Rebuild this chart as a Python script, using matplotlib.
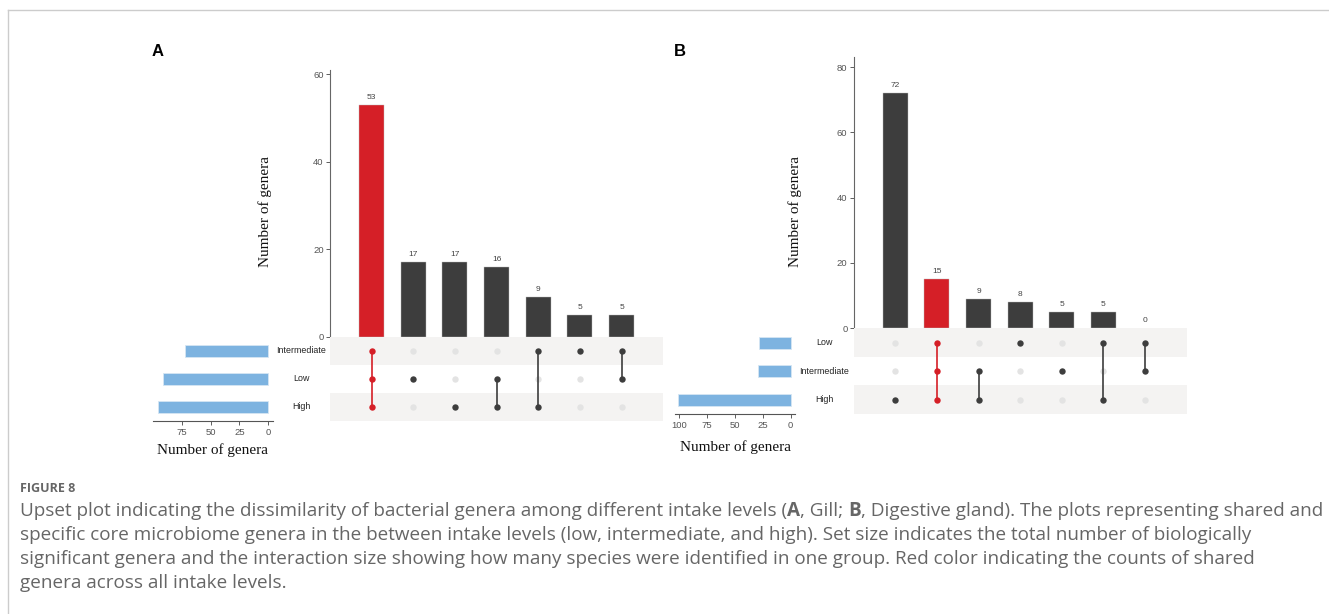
import matplotlib
matplotlib.use('Agg')
import matplotlib.pyplot as plt
import matplotlib.transforms as mtransforms
from matplotlib.lines import Line2D

W, H = 1329, 614

# panel A (gill)
sets_a = ['Intermediate', 'Low', 'High']
set_sizes_a = [72, 91, 95]
inter_a = [53, 17, 17, 16, 9, 5, 5]
members_a = [['Intermediate', 'Low', 'High'], ['Low'], ['High'], ['Low', 'High'],
             ['Intermediate', 'High'], ['Intermediate'], ['Intermediate', 'Low']]
shared_a = 0

# panel B (digestive gland)
sets_b = ['Low', 'Intermediate', 'High']
set_sizes_b = [28, 29, 101]
inter_b = [72, 15, 9, 8, 5, 5, 0]
members_b = [['High'], ['Low', 'Intermediate', 'High'], ['Intermediate', 'High'], ['Low'],
             ['Intermediate'], ['Low', 'High'], ['Low', 'Intermediate']]
shared_b = 1

DARK = '#3d3d3d'
RED = '#d51f27'
BLUE = '#7db3e0'
BAND = '#f4f3f2'
OFF = '#e3e3e3'
SANS = ['Liberation Sans', 'DejaVu Sans']
SERIF = ['Liberation Serif', 'DejaVu Serif']

fig = plt.figure(figsize=(W / 100, H / 100), dpi=100)


def px_box(x0, y0, x1, y1):
    return [x0 / W, 1 - y1 / H, (x1 - x0) / W, (y1 - y0) / H]


def upset(sets, sizes, inter, members, shared, bar_box, mat_box, set_box, ymax, yticks, sxlim, sxticks,
          label, label_xy, ylab_x, xlab_y):
    ax_bar = fig.add_axes(px_box(*bar_box))
    ax_mat = fig.add_axes(px_box(*mat_box))
    ax_set = fig.add_axes(px_box(*set_box))
    n = len(inter)
    xs = list(range(n))
    colors = [RED if i == shared else DARK for i in xs]

    # intersection sizes
    bars = ax_bar.bar(xs, inter, width=0.6, color=colors, edgecolor='#bbbbbb', linewidth=0.3)
    for b, v in zip(bars, inter):
        if v == 0:
            b.set_linewidth(0)
    for x, v in zip(xs, inter):
        ax_bar.annotate(str(v), (x, v), xytext=(0, 3), textcoords='offset points', ha='center', va='bottom',
                        fontsize=6, color='#444444', family=SANS)
    ax_bar.set_xlim(-1, n)
    ax_bar.set_ylim(0, ymax)
    ax_bar.set_yticks(yticks)
    ax_bar.set_xticks([])
    for s in ['top', 'right', 'bottom']:
        ax_bar.spines[s].set_visible(False)
    ax_bar.spines['left'].set_color('#666666')
    ax_bar.spines['left'].set_linewidth(0.8)
    ax_bar.tick_params(axis='y', length=3, width=0.6, color='#444444', labelsize=6.8, labelcolor='#555555', pad=1.5)
    for t in ax_bar.get_yticklabels():
        t.set_family(SANS)
    ax_bar.patch.set_alpha(0)

    # matrix
    rows = {s: i for i, s in enumerate(sets)}
    ax_mat.set_xlim(-1, n)
    ax_mat.set_ylim(len(sets) - 0.5, -0.5)
    for i in range(len(sets)):
        if i % 2 == 0:
            ax_mat.axhspan(i - 0.5, i + 0.5, color=BAND, lw=0, zorder=0)
    for x, mem in zip(xs, members):
        col = RED if x == shared else DARK
        on = [rows[m] for m in mem]
        off = [r for r in range(len(sets)) if r not in on]
        ax_mat.plot([x] * len(off), off, 'o', color=OFF, ms=4.6, mew=0, zorder=2)
        if len(on) > 1:
            ax_mat.plot([x, x], [min(on), max(on)], color=col, lw=1.2, zorder=3)
        ax_mat.plot([x] * len(on), on, 'o', color=col, ms=4.6, mew=0, zorder=4)
    ax_mat.axis('off')

    # set sizes
    ys = list(range(len(sets)))
    ax_set.barh(ys, sizes, height=0.42, color=BLUE, edgecolor='#d6e6f3', linewidth=0.6)
    ax_set.set_ylim(len(sets) - 0.5, -0.5)
    ax_set.set_xlim(*sxlim)
    ax_set.set_xticks(sxticks)
    ax_set.set_yticks([])
    for s in ['top', 'right', 'left']:
        ax_set.spines[s].set_visible(False)
    ax_set.spines['bottom'].set_color('#555555')
    ax_set.spines['bottom'].set_linewidth(0.8)
    ax_set.tick_params(axis='x', length=3, width=0.6, color='#444444', labelsize=6.8, labelcolor='#555555', pad=2)
    for t in ax_set.get_xticklabels():
        t.set_family(SANS)
    ax_set.patch.set_alpha(0)
    fig.text((set_box[0] + set_box[2]) / 2 / W, 1 - xlab_y / H, 'Number of genera', ha='center', va='center',
             family=SERIF, fontsize=11, color='#111111')

    # set names in the gap between set bars and matrix
    gap_x = (set_box[2] + mat_box[0]) / 2 / W
    tr = mtransforms.blended_transform_factory(fig.transFigure, ax_mat.transData)
    for s, r in rows.items():
        fig.text(gap_x, r, s, transform=tr, ha='center', va='center', fontsize=6.4, color='#222222', family=SANS)

    fig.text(ylab_x / W, 1 - 212 / H, 'Number of genera', rotation=90, ha='center', va='center',
             family=SERIF, fontsize=11, color='#111111')
    fig.text(label_xy[0] / W, 1 - label_xy[1] / H, label, ha='center', va='center', fontsize=12,
             weight='bold', family=SANS)


upset(sets_a, set_sizes_a, inter_a, members_a, shared_a,
      (330, 70, 663.3, 336.7), (330, 336.7, 663.3, 420.7), (152.7, 336.7, 272.7, 420.7),
      61, [0, 20, 40, 60], (100, -3.8), [0, 25, 50, 75], 'A', (158, 52), 265, 450)

upset(sets_b, set_sizes_b, inter_b, members_b, shared_b,
      (853.7, 57.3, 1186.7, 328.3), (853.7, 328.3, 1186.7, 414), (675, 328.3, 795, 414),
      83, [0, 20, 40, 60, 80], (103.6, -3.85), [0, 25, 50, 75, 100], 'B', (680, 52), 795, 447)

# page frame
fig.add_artist(Line2D([7.5 / W, 1], [1 - 9.5 / H, 1 - 9.5 / H], transform=fig.transFigure, color='#cccccc', lw=1))
fig.add_artist(Line2D([7.5 / W, 7.5 / W], [0, 1 - 9.5 / H], transform=fig.transFigure, color='#cccccc', lw=1))

# caption
CAP = ['Open Sans', 'DejaVu Sans']
GREY = '#666666'
fig.text(20 / W, 1 - 488 / H, 'FIGURE 8', fontsize=9, color=GREY, family=CAP, weight='bold', va='center')
caption = [
    [('Upset plot indicating the dissimilarity of bacterial genera among different intake levels (', 'normal'),
     ('A', 'bold'), (', Gill; ', 'normal'), ('B', 'bold'),
     (', Digestive gland). The plots representing shared and', 'normal')],
    [('specific core microbiome genera in the between intake levels (low, intermediate, and high). '
      'Set size indicates the total number of biologically', 'normal')],
    [('significant genera and the interaction size showing how many species were identified in one group. '
      'Red color indicating the counts of shared', 'normal')],
    [('genera across all intake levels.', 'normal')],
]
renderer = fig.canvas.get_renderer()

# fit the first caption line (with its bold runs) to the width it has in the reference
probe_x = 0
for txt, wt in caption[0]:
    p = fig.text(0, 0, txt, fontsize=12, family=CAP, weight=wt)
    probe_x += p.get_window_extent(renderer).width
    p.remove()
cap_size = 12 * (1318 - 20) / probe_x

for k, line in enumerate(caption):
    x = 20
    y = 511 + 24 * k
    for txt, wt in line:
        t = fig.text(x / W, 1 - y / H, txt, fontsize=cap_size, color=GREY, family=CAP, weight=wt, va='center')
        x = t.get_window_extent(renderer).x1

fig.savefig('out.png', dpi=100)
